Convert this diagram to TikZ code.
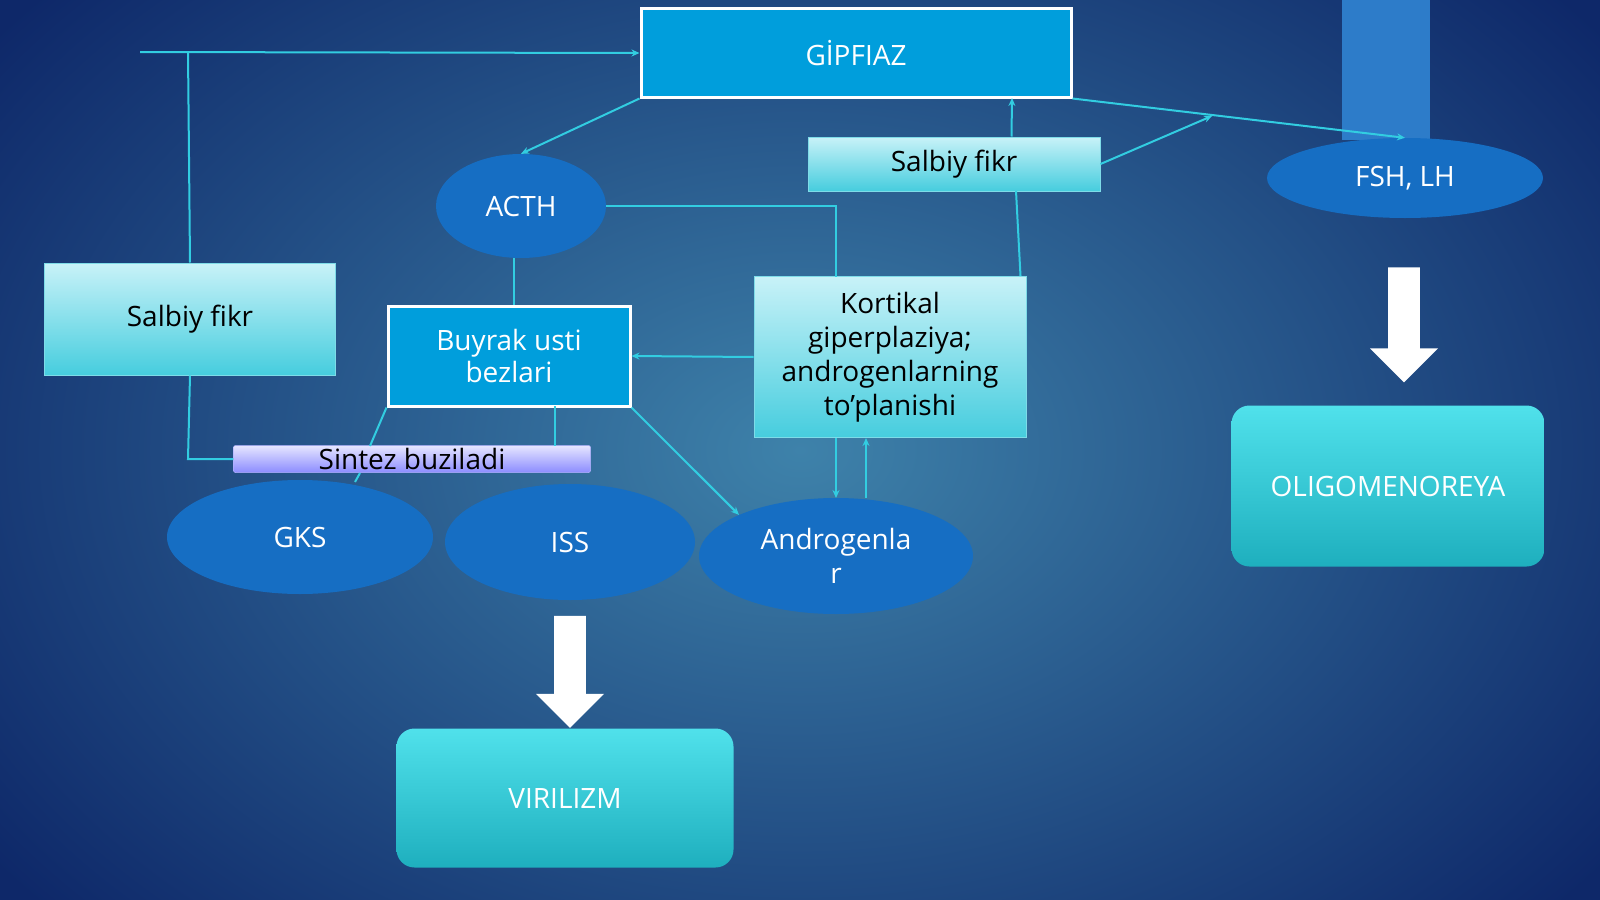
\documentclass[tikz,border=0pt]{standalone}
\usepackage{fontspec}
\setmainfont{Open Sans}
\usetikzlibrary{arrows.meta,shapes.geometric,shapes.arrows}
\definecolor{bgc}{RGB}{62,130,170}
\definecolor{bge}{RGB}{14,40,105}
\definecolor{boxb}{RGB}{0,158,220}
\definecolor{ellb}{RGB}{22,110,195}
\definecolor{lin}{RGB}{50,205,225}
\definecolor{cyt}{RGB}{200,242,248}
\definecolor{cyb}{RGB}{70,205,222}
\definecolor{tqt}{RGB}{80,225,235}
\definecolor{tqb}{RGB}{30,175,190}
\begin{document}
\begin{tikzpicture}[x=1pt,y=-1pt,
 bb/.style={draw=white,line width=3pt,fill=boxb,text=white,font=\fontsize{28}{32}\selectfont,align=center},
 lb/.style={draw=cyb!70!white,line width=1pt,top color=cyt,bottom color=cyb,text=black,font=\fontsize{28}{34}\selectfont,align=center},
 el/.style={ellipse,fill=ellb,text=white,font=\fontsize{28}{34}\selectfont,align=center,inner sep=0pt},
 tq/.style={rounded corners=18pt,top color=tqt,bottom color=tqb,text=white,font=\fontsize{28}{32}\selectfont},
 ln/.style={draw=lin,line width=2pt},
 ar/.style={ln,-{Stealth[length=8pt,width=7pt]}},
 wa/.style={single arrow,fill=white,draw=none,shape border rotate=270,minimum width=68pt,single arrow head extend=4pt,single arrow head indent=0pt}]
\useasboundingbox (0,0) rectangle (1600,899);
\clip (0,0) rectangle (1600,899);
\shade[inner color=bgc,outer color=bge] (-200,-250) rectangle (1800,1150);
\fill[ellb!90!white] (1342,0) rectangle (1430,140);
% nodes
\node[bb,minimum width=430pt,minimum height=88pt] (g) at (856,53) {GİPFIAZ};
\node[lb,minimum width=292pt,minimum height=54pt] (s2) at (954,164) {Salbiy fikr};
\node[el,minimum width=276pt,minimum height=80pt] (f) at (1405,178) {FSH, LH};
\node[tq,minimum width=313pt,minimum height=161pt] (o) at (1388,486) {OLIGOMENOREYA};
\node[el,minimum width=170pt,minimum height=104pt] (a) at (521,206) {ACTH};
\node[lb,minimum width=291pt,minimum height=112pt] (s1) at (190,319) {Salbiy fikr};
\node[bb,minimum width=242pt,minimum height=100pt] (b) at (509,356) {Buyrak usti\\bezlari};
\node[lb,minimum width=272pt,minimum height=161pt] (k) at (890,357) {Kortikal\\giperplaziya;\\androgenlarning\\to'planishi};
\node[el,minimum width=266pt,minimum height=114pt] (gk) at (300,537) {GKS};
\node[el,minimum width=250pt,minimum height=116pt] (is) at (570,542) {ISS};
\node[el,minimum width=274pt,minimum height=116pt] (an) at (836,556) {Androgenla\\r};
\node[draw=white!70!blue,line width=0.5pt,top color=blue!10!white,bottom color=blue!45!white,minimum width=357pt,minimum height=27pt,inner sep=0pt,font=\fontsize{28}{30}\selectfont,rounded corners=2pt] (sz) at (412,459) {Sintez buziladi};
\node[tq,minimum width=337pt,minimum height=139pt] (v) at (565,798) {VIRILIZM};
\node[wa,minimum height=115pt] (w1) at (1404,317) {};
\node[wa,minimum height=112pt] (w2) at (570,664) {};
% connectors
\coordinate (t0) at (140,52);
\coordinate (t1) at (188,52);
\draw[ar] (t0) -- (g.west);
\draw[ln] (t1) -- (s1.north);
\draw[ln] (s1.south) -- (188,459) -- (sz.west);
\draw[ar] (g.south west) -- (a.north);
\draw[ar] (g.south east) -- (f.north);
\coordinate (m) at (1212,116);
\draw[ar] (s2.east) -- (m);
\draw[ar] (s2.north west) ++(204,0) -- (1012,98);
\draw[ln] (k.north east) ++(-6,0) -- (1016,191);
\draw[ln] (a.east) -- (836,206) -- (836,277);
\draw[ln] (514,258) -- (514,305);
\draw[ar] (k.west) -- (b.east);
\draw[ar] (b.south east) -- (an.north west);
\draw[ln] (555,406) -- (555,446);
\draw[ln] (b.south west) -- (370,446);
\draw[ln] (360,473) -- (355,482);
\draw[ar] (836,438) -- (836,498);
\draw[ar] (866,498) -- (866,438);
\end{tikzpicture}
\end{document}
